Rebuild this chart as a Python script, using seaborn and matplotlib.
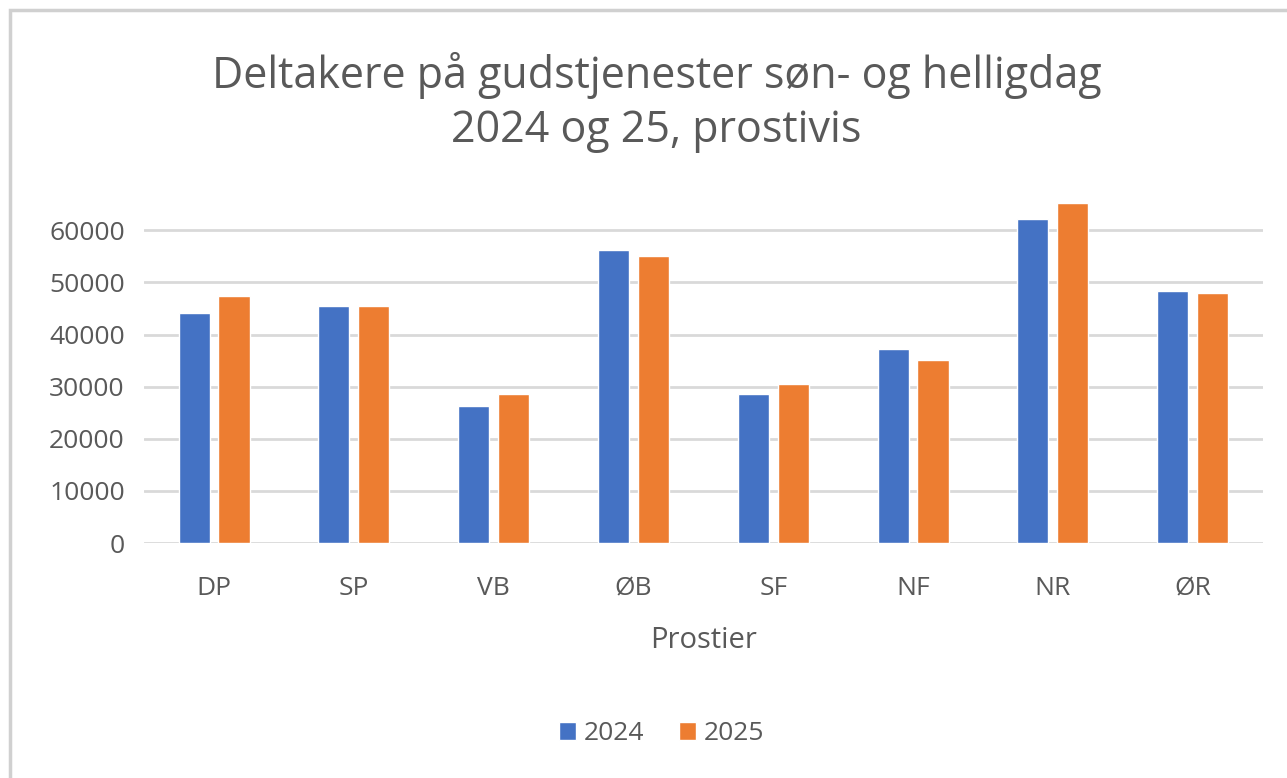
import seaborn as sns
import matplotlib.pyplot as plt
import pandas as pd
from matplotlib.patches import Rectangle

prostier = ['DP', 'SP', 'VB', 'ØB', 'SF', 'NF', 'NR', 'ØR']
deltakere_2024 = [44100, 45400, 26300, 56300, 28600, 37200, 62200, 48400]
deltakere_2025 = [47400, 45400, 28600, 55000, 30600, 35200, 65200, 48000]
aar = ['2024', '2025']
farger = ['#4472C4', '#ED7D31']

df = pd.DataFrame({
    'Prostier': prostier * 2,
    'Deltakere': deltakere_2024 + deltakere_2025,
    'År': [aar[0]] * len(prostier) + [aar[1]] * len(prostier),
})

sns.set_style('white')
plt.rcParams['font.family'] = ['Open Sans', 'DejaVu Sans']
grey = '#595959'

fig = plt.figure(figsize=(12.87, 7.78), dpi=100)
ax = fig.add_axes([0.112, 0.302, 0.869, 0.469])

sns.barplot(data=df, x='Prostier', y='Deltakere', hue='År', palette=farger,
            saturation=1, width=0.57, gap=0.22, ax=ax, legend=True)

ax.set_ylim(0, 70000)
ax.set_yticks(range(0, 70000, 10000))
ax.yaxis.grid(True, color='#d9d9d9', linewidth=2)
ax.set_axisbelow(True)
for s in ax.spines.values():
    s.set_visible(False)
ax.tick_params(axis='both', length=0, labelsize=19, colors=grey)
ax.tick_params(axis='y', pad=14)
ax.tick_params(axis='x', pad=24)
ax.set_ylabel('')
ax.set_xlabel('Prostier', fontsize=21, color=grey, labelpad=18)

handles, labels = ax.get_legend_handles_labels()
ax.get_legend().remove()
fig.legend(handles, labels, loc='center', bbox_to_anchor=(0.514, 0.057), ncol=2,
           frameon=False, fontsize=19, labelcolor=grey, handlelength=0.65,
           handleheight=0.65, handletextpad=0.3, columnspacing=1.3)

fig.text(0.51, 0.868, 'Deltakere på gudstjenester søn- og helligdag\n2024 og 25, prostivis',
         ha='center', va='center', fontsize=31, color=grey, linespacing=1.3)

fig.patches.append(Rectangle((0.008, -0.05), 1.2, 1.037, transform=fig.transFigure,
                             fill=False, edgecolor='#d0d0d0', linewidth=2.5))

plt.savefig('out.png', dpi=100)
plt.close()
